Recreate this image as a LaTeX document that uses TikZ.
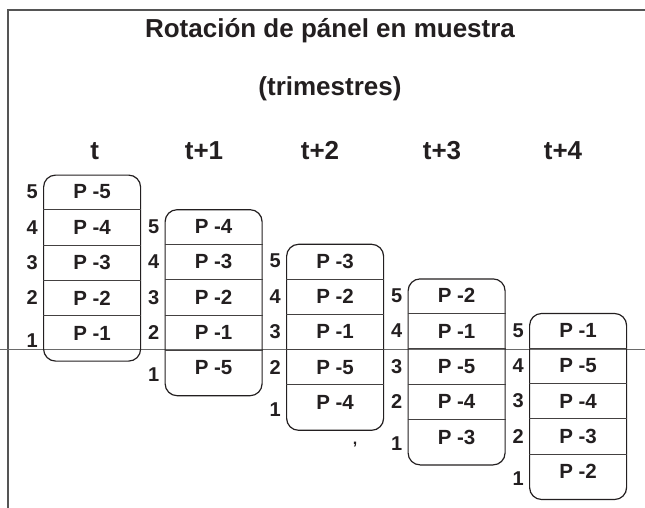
\documentclass[tikz,border=0pt]{standalone}
\usepackage{fontspec}
\setmainfont{Liberation Sans}
\definecolor{ink}{HTML}{231F20}
\definecolor{framegray}{HTML}{555555}
\definecolor{axisgray}{HTML}{6A6A6A}
\begin{document}
\begin{tikzpicture}[x=1pt,y=-1pt,
  frameline/.style={draw=framegray,line width=1.6pt},
  axisline/.style={draw=axisgray,line width=1pt},
  panelbox/.style={draw=ink,line width=1.2pt,rounded corners=12pt,minimum width=97pt,minimum height=186pt,inner sep=0pt,anchor=north west},
  divider/.style={draw=ink!85,line width=0.9pt},
  titletxt/.style={font=\bfseries\fontsize{26}{30}\selectfont,text=ink,anchor=base,inner sep=0pt},
  headtxt/.style={font=\bfseries\fontsize{26}{30}\selectfont,text=ink,anchor=base,inner sep=0pt},
  lbl/.style={font=\bfseries\fontsize{20.5}{24}\selectfont,text=ink,inner sep=0pt},
  num/.style={font=\bfseries\fontsize{20}{24}\selectfont,text=ink,inner sep=0pt,anchor=east}
]
\useasboundingbox (0,0) rectangle (645,508);
% frame
\coordinate (fbl) at (8,508);
\coordinate (ftl) at (8,10);
\coordinate (ftr) at (645,10);
\draw[frameline] (fbl) -- (ftl) -- (ftr);
% horizontal reference line
\coordinate (al) at (0,349.5);
\coordinate (ar) at (645,349.5);
\draw[axisline] (al) -- (ar);
% titles
\node[titletxt] (title) at (330,38) {Rotación de pánel en muestra};
\node[titletxt] (sub) at (330,96) {(trimestres)};
\node[headtxt] (h0) at (94.6,159) {t};
\node[headtxt] (h1) at (204,159) {t+1};
\node[headtxt] (h2) at (320,159) {t+2};
\node[headtxt] (h3) at (442,159) {t+3};
\node[headtxt] (h4) at (563,159) {t+4};
% panels
\foreach \c/\labs in {0/{5,4,3,2,1},1/{4,3,2,1,5},2/{3,2,1,5,4},3/{2,1,5,4,3},4/{1,5,4,3,2}} {
  \pgfmathsetmacro\bx{43+121.5*\c}
  \pgfmathsetmacro\by{174.5+34.6*\c}
  \node[panelbox] (b\c) at (\bx,\by) {};
  \foreach \r in {1,...,4} {
    \pgfmathsetmacro\dy{35.3*\r}
    \draw[divider] ([yshift=-\dy pt]b\c.north west) -- ([yshift=-\dy pt]b\c.north east);
  }
  \foreach \v [count=\k from 0] in \labs {
    \pgfmathsetmacro\ly{17.5+35.3*\k}
    \pgfmathtruncatemacro\n{5-\k}
    \pgfmathsetmacro\ny{\k==4 ? \ly+7 : \ly}
    \node[lbl] (l\c\k) at ([yshift=-\ly pt]b\c.north) {P -\v};
    \node[num] (n\c\k) at ([xshift=-5pt,yshift=-\ny pt]b\c.north west) {\n};
  }
}
\node[font=\bfseries\fontsize{16}{18}\selectfont,text=ink,inner sep=0pt] (comma) at (355,445) {,};
\end{tikzpicture}
\end{document}
